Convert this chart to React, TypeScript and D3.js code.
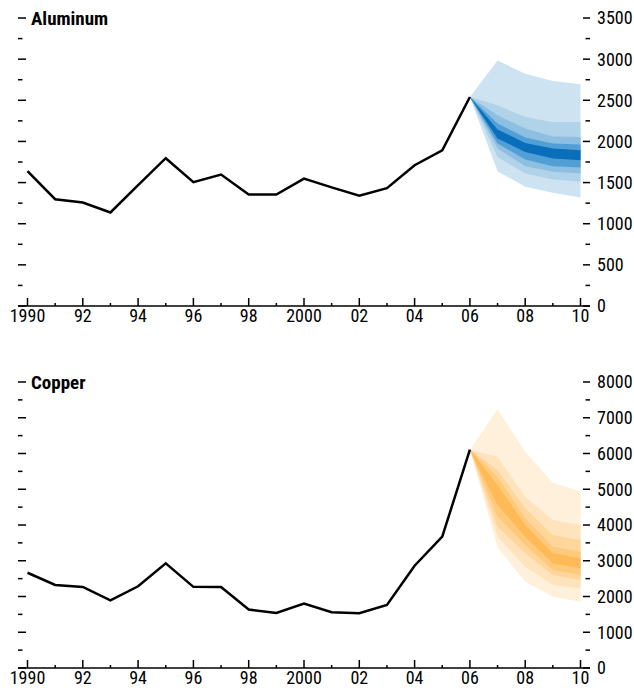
import React from "react";
import * as d3 from "d3";

const years = d3.range(1990, 2007);
const fanYears = [2006, 2007, 2008, 2009, 2010];

const aluminum = [1640, 1298, 1258, 1137, 1470, 1796, 1505, 1598, 1355, 1355, 1548, 1442, 1340, 1432, 1711, 1891, 2540];
const copper = [2664, 2322, 2266, 1895, 2286, 2926, 2270, 2264, 1636, 1540, 1800, 1558, 1530, 1762, 2860, 3674, 6105];

// fan bands: [upper, lower] for 2007..2010, outermost first
const aluUpper = [
  [2985, 2824, 2734, 2694],
  [2439, 2297, 2237, 2237],
  [2318, 2156, 2060, 2055],
  [2217, 2047, 1974, 1962],
  [2144, 1982, 1913, 1893],
];
const aluLower = [
  [1638, 1448, 1375, 1319],
  [1812, 1610, 1537, 1509],
  [1913, 1699, 1630, 1610],
  [1974, 1780, 1699, 1683],
  [2035, 1873, 1792, 1772],
];
const cuUpper = [
  [7245, 6050, 5183, 4940],
  [5911, 4792, 4140, 4000],
  [5538, 4467, 3720, 3580],
  [5351, 4187, 3394, 3254],
  [5119, 4000, 3208, 3068],
];
const cuLower = [
  [3370, 2414, 1995, 1855],
  [3673, 2834, 2322, 2229],
  [3953, 3208, 2601, 2462],
  [4233, 3441, 2741, 2601],
  [4559, 3673, 2928, 2789],
];

const blues = ["#cde3f1", "#b1d3ea", "#8cbfe1", "#529fd6", "#0a6fba"];
const oranges = ["#fff0dc", "#ffe3bc", "#fed69b", "#fdc97b", "#fdba56"];

const FONT = "'Liberation Sans Narrow', 'Arial Narrow', 'Roboto Condensed', 'Liberation Sans', sans-serif";

type PanelProps = {
  title: string;
  values: number[];
  upper: number[][];
  lower: number[][];
  colors: string[];
  yMax: number;
  major: number;
  yTop: number;
  yBottom: number;
};

const xScale = d3.scaleLinear().domain([1990, 2010]).range([27.5, 580.5]);

function Panel({ title, values, upper, lower, colors, yMax, major, yTop, yBottom }: PanelProps) {
  const y = d3.scaleLinear().domain([0, yMax]).range([yBottom, yTop]);
  const last = values[values.length - 1];
  const line = d3
    .line<number>()
    .x((_, i) => xScale(years[i]))
    .y((d) => y(d));
  const area = d3
    .area<[number, number, number]>()
    .x((d) => xScale(d[0]))
    .y0((d) => y(d[2]))
    .y1((d) => y(d[1]));
  const minorTicks = d3.range(0, yMax + 1, major / 2);
  const xTicks = d3.range(1990, 2011);
  return (
    <g>
      {minorTicks.map((t) => {
        const isMajor = t % major === 0;
        return (
          <g key={t}>
            <line x1={18} x2={isMajor ? 26 : 22.5} y1={y(t)} y2={y(t)} stroke="#000" strokeWidth={1.5} />
            <line x1={isMajor ? 583 : 585.5} x2={590} y1={y(t)} y2={y(t)} stroke="#000" strokeWidth={1.5} />
            {isMajor && (
              <text x={597} y={y(t)} dy="0.36em" fontSize={18} fontFamily={FONT} fill="#000">
                {t}
              </text>
            )}
          </g>
        );
      })}
      <text x={31} y={y(yMax)} dy="0.36em" fontSize={19} fontWeight="bold" fontFamily={FONT} fill="#000">
        {title}
      </text>
      {upper.map((u, k) => {
        const pts: [number, number, number][] = fanYears.map((yr, i) =>
          i === 0 ? [yr, last, last] : [yr, u[i - 1], lower[k][i - 1]]
        );
        return <path key={k} d={area(pts) || ""} fill={colors[k]} />;
      })}
      <path d={line(values) || ""} fill="none" stroke="#000" strokeWidth={2.5} strokeLinejoin="miter" />
      <line x1={18} x2={590} y1={yBottom} y2={yBottom} stroke="#000" strokeWidth={1.5} />
      {xTicks.map((yr) => {
        const isMajor = yr % 2 === 0;
        return (
          <g key={yr}>
            <line x1={xScale(yr)} x2={xScale(yr)} y1={yBottom} y2={yBottom - (isMajor ? 8 : 3)} stroke="#000" strokeWidth={1.5} />
            {isMajor && (
              <text x={xScale(yr)} y={yBottom + 16} textAnchor="middle" fontSize={18} fontFamily={FONT} fill="#000">
                {yr === 1990 || yr === 2000 ? String(yr) : String(yr).slice(2)}
              </text>
            )}
          </g>
        );
      })}
    </g>
  );
}

export default function App() {
  return (
    <svg width={634} height={694} style={{ position: "absolute", left: 0, top: 0 }}>
      <rect width={634} height={694} fill="#fff" />
      <Panel title="Aluminum" values={aluminum} upper={aluUpper} lower={aluLower} colors={blues} yMax={3500} major={500} yTop={18} yBottom={306} />
      <Panel title="Copper" values={copper} upper={cuUpper} lower={cuLower} colors={oranges} yMax={8000} major={1000} yTop={382} yBottom={668} />
    </svg>
  );
}
